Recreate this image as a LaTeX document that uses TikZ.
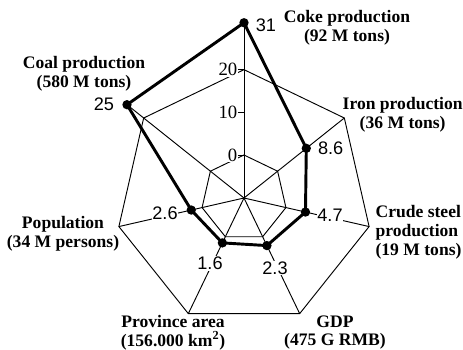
\documentclass[tikz,border=0pt]{standalone}
\usepackage{fontspec}
\setmainfont{Liberation Serif}
\setsansfont{Liberation Sans}
\usepackage{tikz}
\usetikzlibrary{positioning, calc}

\begin{document}
\begin{tikzpicture}[
    % Styles
    web/.style={draw=black, line width=0.8pt},
    profile/.style={draw=black, line width=2.5pt, line join=round},
    dot/.style={circle, fill=black, inner sep=0pt, minimum size=0.28cm},
    val/.style={font=\sffamily\fontsize{15.5}{16}\selectfont, fill=white, inner sep=0.5pt},
    scalelabel/.style={font=\fontsize{16}{17}\selectfont, fill=white, inner sep=0.5pt, anchor=east},
    axlabel/.style={font=\fontsize{15}{16}\selectfont\bfseries, align=center, inner sep=0pt},
]
\useasboundingbox (-7.32,-4.53) rectangle (6.57,5.94);

% ===== GRID: SPOKES AND HEPTAGONS =====
\coordinate (o) at (0,0);
\foreach \i/\a in {1/90, 2/38.57, 3/-12.86, 4/-64.29, 5/-115.71, 6/-167.14, 7/141.43} {
    \coordinate (out\i) at (\a:3.85);
    \coordinate (in\i) at (\a:1.29);
    \draw[web] (o) -- (out\i);
}
\draw[web] (out1) -- (out2) -- (out3) -- (out4) -- (out5) -- (out6) -- (out7) -- cycle;
\draw[web] (in1) -- (in2) -- (in3) -- (in4) -- (in5) -- (in6) -- (in7) -- cycle;

% ===== SCALE ON COKE AXIS =====
\foreach \v in {0,10,20} {
    \draw[web] (0,{1.29+0.128*\v}) -- ++(-0.17,0) node[scalelabel] (s\v) {\v};
}

% ===== DATA POINTS =====
\foreach \i/\a/\v in {1/90/31, 2/38.57/8.6, 3/-12.86/4.7, 4/-64.29/2.3, 5/-115.71/1.6, 6/-167.14/2.6, 7/141.43/25}
    \coordinate (p\i) at (\a:{1.29+0.128*\v});

% spokes run on to the points beyond the outer ring
\draw[web] (out1) -- (p1);
\draw[web] (out7) -- (p7);

% value labels
\node[val] (v1) at (0.66,5.175) {31};
\node[val] (v2) at (2.6,1.485) {8.6};
\node[val] (v3) at (2.58,-0.51) {4.7};
\node[val] (v4) at (0.93,-2.1) {2.3};
\node[val] (v5) at (-1.02,-1.965) {1.6};
\node[val] (v6) at (-2.37,-0.45) {2.6};
\node[val] (v7) at (-4.2,2.82) {25};

% profile
\draw[profile] (p1) -- (p2) -- (p3) -- (p4) -- (p5) -- (p6) -- (p7) -- cycle;
\foreach \i in {1,...,7} \node[dot] (d\i) at (p\i) {};

% ===== AXIS LABELS =====
\node[axlabel] (coke) at (3.09,5.115) {Coke production\\(92 M tons)};
\node[axlabel] (iron) at (4.76,2.49) {Iron production\\(36 M tons)};
\node[axlabel, anchor=west, align=left] (steel) at (3.94,-1.035) {Crude steel\\production\\(19 M tons)};
\node[axlabel] (gdp) at (2.73,-4.035) {GDP\\(475 G RMB)};
\node[axlabel] (area) at (-2.13,-4.035) {Province area\\(156.000 km\textsuperscript{2})};
\node[axlabel] (pop) at (-5.43,-1.08) {Population\\(34 M persons)};
\node[axlabel] (coal) at (-4.8,3.735) {Coal production\\(580 M tons)};

\end{tikzpicture}
\end{document}
